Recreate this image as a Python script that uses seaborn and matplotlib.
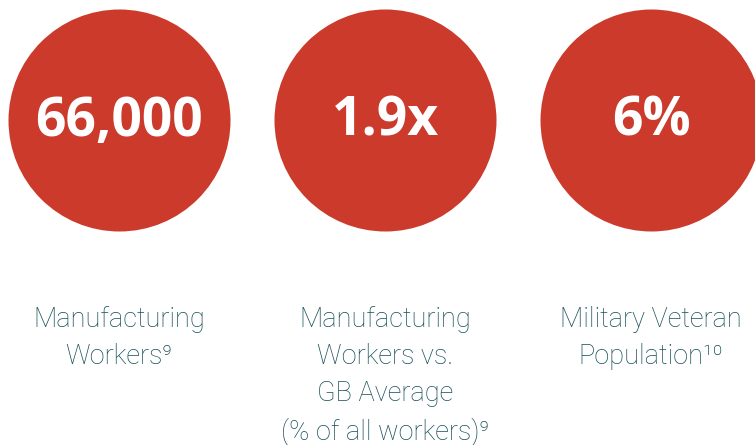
import matplotlib
matplotlib.use("Agg")
import matplotlib.pyplot as plt
import seaborn as sns
import pandas as pd

# ---- data ----
values = ["66,000", "1.9x", "6%"]
labels = [
    "Manufacturing\nWorkers\u2079",
    "Manufacturing\nWorkers vs.\nGB Average\n(% of all workers)\u2079",
    "Military Veteran\nPopulation\u00b9\u2070",
]
slots = [0, 1, 2]

sns.set_theme(style="white")
plt.rcParams["font.family"] = ["Roboto", "DejaVu Sans"]

RED = "#CB3A2B"
TEAL = "#174F58"

W, H = 755, 445
fig = plt.figure(figsize=(W / 100, H / 100), dpi=100)
ax = fig.add_axes([0, 0, 1, 1])

# positions in pixel space (layout)
x0, dx = 119, 266
cy = 120
df = pd.DataFrame({"slot": slots, "value": values, "label": labels})
df["x"] = x0 + df["slot"] * dx
df["y"] = cy

diam_pt = 222 * 72 / 100
sns.scatterplot(data=df, x="x", y="y", s=diam_pt ** 2, color=RED,
                linewidth=0, ax=ax, legend=False, zorder=2)

for _, r in df.iterrows():
    ax.text(r["x"], r["y"] + 2, r["value"], ha="center", va="center",
            color="white", fontsize=38.5, fontweight="bold",
            family=["Open Sans", "DejaVu Sans"], zorder=3)
    ax.text(r["x"], 306, r["label"], ha="center", va="top", color=TEAL,
            fontsize=19.5, fontweight="light", linespacing=1.48, zorder=3,
            family=["Roboto", "DejaVu Sans"])

ax.set_xlim(0, W)
ax.set_ylim(H, 0)
ax.set_axis_off()
fig.savefig("out.png", dpi=100, facecolor="white")
